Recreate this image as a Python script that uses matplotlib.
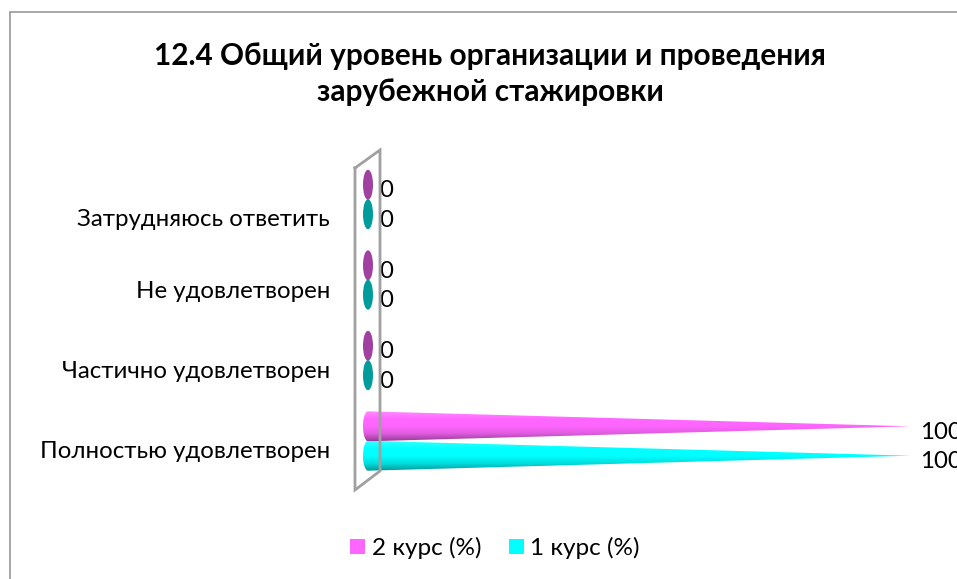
import numpy as np
import matplotlib
matplotlib.use("Agg")
import matplotlib.pyplot as plt
from matplotlib.patches import Polygon, Ellipse, Patch
from matplotlib.colors import LinearSegmentedColormap
from matplotlib.lines import Line2D

plt.rcParams['font.family'] = ['Lato', 'Noto Sans', 'DejaVu Sans']

categories = ["Полностью удовлетворен", "Частично удовлетворен", "Не удовлетворен", "Затрудняюсь ответить"]
course2 = [100, 0, 0, 0]
course1 = [100, 0, 0, 0]
title_text = "12.4 Общий уровень организации и проведения\nзарубежной стажировки"

W, H = 957, 579
fig = plt.figure(figsize=(W / 100, H / 100), dpi=100, facecolor="white")

def fx(p): return p / W
def fy(p): return 1 - p / H

# axes: x 0..100 -> px 368..910 ; category 0..3 -> px 441..199.5
y0, y3 = 441.0, 199.5
ax = fig.add_axes([fx(368), fy(y0), fx(910) - fx(368), (y0 - y3) / H])
ax.set_xlim(0, 100)
ax.set_ylim(0, 3)
ax.axis("off")
px_x = 100 / 542.0
px_y = 3 / (y0 - y3)

# frame (open to the right and bottom of the picture)
frame = [(9.5, 590), (9.5, 12), (970, 12)]
fig.add_artist(Line2D([fx(a) for a, b in frame], [fy(b) for a, b in frame], color="#a0a0a0", lw=1.3,
                      transform=fig.transFigure, solid_joinstyle="miter"))
# wall
wall = [(355, 168), (380, 150), (380, 471), (355, 490), (355, 168)]
fig.add_artist(Line2D([fx(a) for a, b in wall], [fy(b) for a, b in wall], color="#a0a0a0", lw=2.0,
                      transform=fig.transFigure, solid_joinstyle="miter"))

cmap2 = LinearSegmentedColormap.from_list("m", ["#ff8cff", "#ff66ff", "#ff66ff", "#e05ce0", "#993d99"])
cmap1 = LinearSegmentedColormap.from_list("c", ["#33ffff", "#00ffff", "#00ffff", "#00dcdc", "#009999"])
half_h, half_w = 15 * px_y, 5 * px_x

def cone(cat, off, v, cmap, flat):
    yc = cat + off * px_y
    if v == 0:
        ax.add_patch(Ellipse((0, yc), 2 * half_w, 2 * half_h, fc=flat, ec="none", clip_on=False, zorder=3))
        return
    grad = np.linspace(0, 1, 64).reshape(-1, 1)
    im = ax.imshow(grad, extent=(-half_w, v, yc - half_h, yc + half_h), cmap=cmap, aspect="auto",
                   origin="upper", zorder=3)
    t = np.linspace(np.pi / 2, 3 * np.pi / 2, 40)
    pts = [(half_w * np.cos(a), yc + half_h * np.sin(a)) for a in t] + [(v, yc)]
    clip = Polygon(pts, closed=True, transform=ax.transData, fc="none", ec="none", clip_on=False)
    ax.add_patch(clip)
    im.set_clip_box(fig.bbox)
    im.set_clip_path(clip)

for i, cat in enumerate(categories):
    cone(i, 14.7, course2[i], cmap2, "#a040a0")
    cone(i, -14.7, course1[i], cmap1, "#009c9c")
    for v, off in ((course2[i], 14.7), (course1[i], -14.7)):
        xt = v + (10 if v else 11) * px_x
        ax.text(xt, i + (off - 6) * px_y, str(v), fontsize=17.3, va="center", ha="left", color="black",
                clip_on=False)

ax.set_xlim(0, 100)
ax.set_ylim(0, 3)

label_y = [452, 371, 291, 220]
for cat, py in zip(categories, label_y):
    fig.text(fx(330), fy(py), cat, ha="right", va="center", fontsize=17.3, color="black")

fig.text(fx(490), fy(74), title_text, ha="center", va="center", fontsize=21.4, fontweight="bold",
         linespacing=1.36, color="black")

handles = [Patch(fc="#ff66ff", ec="none", label="2 курс (%)"), Patch(fc="#00ffff", ec="none", label="1 курс (%)")]
fig.legend(handles=handles, ncol=2, frameon=False, fontsize=17.5, loc="center",
           bbox_to_anchor=(fx(495), fy(548)), handlelength=0.62, handleheight=0.62,
           handletextpad=0.27, columnspacing=1.12, borderpad=0)

fig.savefig("out.png", dpi=100)
